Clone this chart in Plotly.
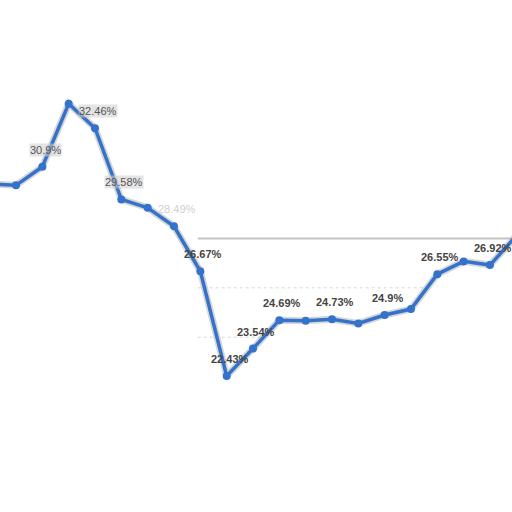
import plotly.graph_objects as go

# ====================================================
# Data
# ====================================================
idx = list(range(21))
rate = [30.2, 30.15, 30.9, 33.45, 32.46, 29.58, 29.24, 28.49, 26.67, 22.43, 23.54,
        24.69, 24.67, 24.73, 24.56, 24.9, 25.14, 26.55, 27.07, 26.92, 28.1]
labels = ["30.2%", "", "30.9%", "", "32.46%", "29.58%", "", "28.49%", "26.67%", "22.43%",
          "23.54%", "24.69%", "", "24.73%", "", "24.9%", "", "26.55%", "", "26.92%", ""]
grid_vals = [28, 26, 24]
grid_end = [20.5, 16.7, 10.3]

BLUE = "#3473c9"

fig = go.Figure()

# soft grey halo under the line
fig.add_trace(go.Scatter(x=idx, y=rate, mode="lines",
                         line=dict(color="rgba(140,140,140,0.35)", width=7),
                         hoverinfo="skip", showlegend=False))
fig.add_trace(go.Scatter(x=idx, y=rate, mode="lines+markers",
                         line=dict(color=BLUE, width=3.5),
                         marker=dict(color=BLUE, size=8),
                         showlegend=False))

# --------------------------
# Partial grid lines
# --------------------------
for g, e in zip(grid_vals, grid_end):
    top = g == grid_vals[0]
    fig.add_shape(type="line", x0=7.9, x1=e, y0=g, y1=g, layer="below",
                  line=dict(color="#c4c4c4" if top else "#d6d6d6",
                            width=2 if top else 1,
                            dash="solid" if top else "dot"))

# --------------------------
# Point labels
# --------------------------
for i, (v, t) in enumerate(zip(rate, labels)):
    if not t:
        continue
    left = i < 8
    fig.add_annotation(x=i, y=v, text=t if left else f"<b>{t}</b>",
                       showarrow=False, yshift=17, xshift=3,
                       font=dict(family="Liberation Sans, Arial", size=11,
                                 color="#d0d0d0" if i == 7 else ("#555" if left else "#444")),
                       bgcolor="rgba(205,205,205,0.55)" if left and i != 7 else None,
                       borderpad=0)

fig.update_layout(
    width=512, height=512,
    margin=dict(l=0, r=0, t=0, b=0),
    paper_bgcolor="white", plot_bgcolor="white",
    xaxis=dict(range=[0.391, 19.837], visible=False),
    yaxis=dict(range=[16.924, 37.652], visible=False),
)

fig.write_html("out.html", config={"displayModeBar": False},
               post_script="document.body.style.margin='0';")
